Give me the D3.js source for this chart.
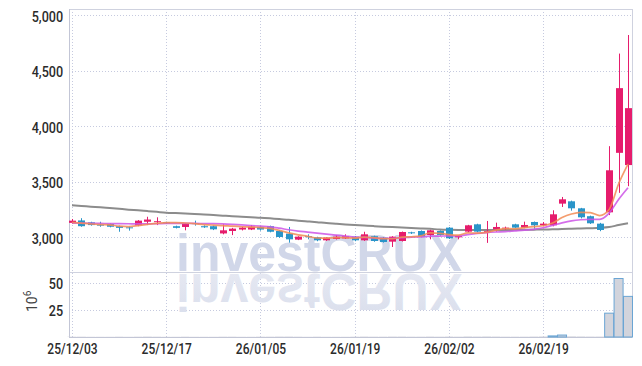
<!DOCTYPE html>
<html>
<head>
<meta charset="utf-8">
<script src="https://cdn.jsdelivr.net/npm/d3@7"></script>
<style>
  body { margin: 0; background: #fff; }
  svg { display: block; }
  .tick text { font-family: Roboto, sans-serif; font-weight: 500; font-size: 15px; fill: #2b2b2b; }
</style>
</head>
<body>
<script>
// daily candles
var dates = ["25/12/03","25/12/04","25/12/05","25/12/08","25/12/09","25/12/10","25/12/11","25/12/12","25/12/15","25/12/16",
  "25/12/17","25/12/18","25/12/19","25/12/22","25/12/23","25/12/24","25/12/26","25/12/29","25/12/30","26/01/02",
  "26/01/05","26/01/06","26/01/07","26/01/08","26/01/09","26/01/12","26/01/13","26/01/14","26/01/15","26/01/16",
  "26/01/19","26/01/20","26/01/21","26/01/22","26/01/23","26/01/26","26/01/27","26/01/28","26/01/29","26/01/30",
  "26/02/02","26/02/03","26/02/04","26/02/05","26/02/06","26/02/09","26/02/10","26/02/11","26/02/12","26/02/13",
  "26/02/19","26/02/20","26/02/23","26/02/24","26/02/25","26/02/26","26/02/27","26/03/03","26/03/04","26/03/05"]
var opens = [3130,3152,3135,3115,3120,3100,3090,3108,3140,3140, 3135,3100,3093,3128,3100,3100,3035,3057,3070,3070,
  3093,3100,3057,3033,2979,3010,3000,2973,2985,2990, 3006,2973,3010,2997,2961,2967,3045,3057,3021,3057,
  3087,3000,3051,3117,3050,3072,3080,3117,3087,3138, 3108,3108,3303,3324,3261,3190,3123,3225,3760,3650]
var highs = [3165,3172,3140,3140,3125,3105,3095,3155,3185,3180, 3140,3105,3128,3150,3108,3105,3117,3085,3095,3110,
  3100,3105,3065,3093,3010,3027,3005,3000,3020,3027, 3012,3050,3015,3003,3010,3052,3050,3062,3068,3062,
  3092,3015,3112,3122,3147,3132,3096,3122,3141,3142, 3138,3243,3363,3330,3265,3195,3130,3820,4653,4820]
var lows = [3120,3095,3105,3095,3090,3050,3060,3100,3110,3110, 3120,3080,3063,3105,3085,3065,3027,3020,3062,3065,
  3060,3045,2995,2952,2975,2982,2965,2968,2980,2985, 2965,2968,2960,2952,2913,2962,3030,3000,2982,3015,
  2985,2982,3045,3045,2950,3051,3066,3085,3082,3078, 3099,3099,3273,3240,3170,3120,3055,3200,3400,3460]
var closes = [3150,3100,3110,3105,3095,3085,3085,3150,3160,3145, 3125,3085,3123,3120,3090,3072,3063,3078,3087,3096,
  3070,3050,3003,2982,3006,3003,2973,2997,3006,3010, 2973,3027,2967,2958,3006,3048,3040,3006,3063,3021,
  2991,3012,3108,3051,3055,3093,3087,3087,3111,3108, 3123,3207,3342,3261,3180,3126,3066,3603,4342,4162]
// volume in millions
var volumes = [0.3,0.3,0.2,0.2,0.2,0.3,0.2,0.3,0.4,0.3, 0.2,0.2,0.3,0.2,0.2,0.2,0.3,0.3,0.2,0.2,
  0.3,0.3,0.4,0.4,0.3,0.2,0.3,0.2,0.2,0.2, 0.3,0.4,0.3,0.3,0.4,0.4,0.3,0.3,0.4,0.3,
  0.4,0.3,0.5,0.4,0.5,0.4,0.3,0.3,0.3,0.4, 0.5,1.0,1.8,0.6,0.5,0.4,0.4,22,54,37.5]
// moving averages (orange, magenta, gray)
var ma5 = [3135,3128,3120,3115,3112,3100,3097,3105,3116,3126, 3133,3133,3129,3123,3115,3110,3106,3100,3095,3092,
  3088,3080,3062,3040,3022,3009,2994,2992,2997,2998, 2993,3002,2997,2988,2987,3001,3005,3013,3040,3036,
  3025,3020,3040,3038,3044,3064,3079,3076,3087,3097, 3104,3128,3178,3210,3225,3222,3196,3250,3480,3658]
var ma10 = [3128,3127,3126,3125,3124,3123,3122,3121,3121,3122, 3125,3125,3125,3125,3124,3123,3121,3117,3112,3106,
  3100,3094,3082,3068,3056,3047,3037,3028,3020,3011, 3002,2999,2994,2991,2991,2996,3002,3004,3010,3011,
  3013,3012,3025,3036,3043,3048,3052,3058,3064,3072, 3086,3108,3130,3148,3158,3162,3162,3218,3340,3446]
var ma60 = [3288,3282,3276,3270,3263,3256,3249,3243,3236,3229, 3222,3218,3214,3209,3205,3200,3195,3190,3186,3181,
  3177,3171,3164,3158,3150,3143,3136,3128,3122,3116, 3111,3106,3101,3096,3092,3088,3084,3080,3076,3071,
  3068,3066,3066,3065,3065,3066,3066,3067,3068,3069, 3070,3072,3075,3078,3080,3082,3085,3092,3110,3126]

var priceTicks = [3000, 3500, 4000, 4500, 5000]
var volumeTicks = [25, 50]
var tickDates = ["25/12/03","25/12/17","26/01/05","26/01/19","26/02/02","26/02/19"]

var w = 642, h = 366
var plotLeft = 69, plotRight = 632, plotTop = 9, split = 272, plotBottom = 337

var svg = d3.select("body").append("svg")
    .attr("width", w)
    .attr("height", h)

var x = d3.scalePoint().domain(dates).range([72, 628])
var y = d3.scaleLinear().domain([2688, 5054]).range([split, plotTop])
var yv = d3.scaleLinear().domain([0, 60]).range([plotBottom, split])

var data = dates.map(function(d, i){
  return {date: d, open: opens[i], high: highs[i], low: lows[i], close: closes[i],
          vol: volumes[i], ma5: ma5[i], ma10: ma10[i], ma60: ma60[i]}
})

// grid
var grid = svg.append("g")
    .attr("stroke", "#c6cadf")
    .attr("stroke-dasharray", "1,2")
grid.selectAll(".hp").data(priceTicks).enter().append("line")
    .attr("x1", plotLeft).attr("x2", plotRight)
    .attr("y1", function(d){ return Math.round(y(d)) + 0.5 })
    .attr("y2", function(d){ return Math.round(y(d)) + 0.5 })
grid.selectAll(".hv").data(volumeTicks).enter().append("line")
    .attr("x1", plotLeft).attr("x2", plotRight)
    .attr("y1", function(d){ return Math.round(yv(d)) + 0.5 })
    .attr("y2", function(d){ return Math.round(yv(d)) + 0.5 })
grid.selectAll(".vx").data(tickDates).enter().append("line")
    .attr("y1", plotTop).attr("y2", plotBottom)
    .attr("x1", function(d){ return Math.round(x(d)) + 0.5 })
    .attr("x2", function(d){ return Math.round(x(d)) + 0.5 })

// watermark + reflection
var defs = svg.append("defs")
var grad = defs.append("linearGradient").attr("id", "fade")
    .attr("x1", 0).attr("y1", 0).attr("x2", 0).attr("y2", 1)
grad.append("stop").attr("offset", "0%").attr("stop-color", "#d9deec")
grad.append("stop").attr("offset", "100%").attr("stop-color", "#e8eaf3")

svg.append("text")
    .attr("x", 176).attr("y", split - 1)
    .attr("textLength", 286).attr("lengthAdjust", "spacingAndGlyphs")
    .style("font-family", "'Liberation Sans', Arial, sans-serif")
    .style("font-weight", "bold")
    .style("font-size", "51px")
    .style("fill", "#d1d7e9")
    .text("investCRUX")
svg.append("text")
    .attr("transform", "translate(0," + (2 * split + 1) + ") scale(1,-1)")
    .attr("x", 176).attr("y", split - 1)
    .attr("textLength", 286).attr("lengthAdjust", "spacingAndGlyphs")
    .style("font-family", "'Liberation Sans', Arial, sans-serif")
    .style("font-weight", "bold")
    .style("font-size", "51px")
    .style("fill", "url(#fade)")
    .text("investCRUX")

// frame
var frame = svg.append("g").attr("stroke", "#cfd2df").attr("fill", "none")
frame.append("line").attr("x1", plotLeft).attr("x2", plotRight).attr("y1", plotTop + 0.5).attr("y2", plotTop + 0.5)
frame.append("line").attr("x1", plotRight + 0.5).attr("x2", plotRight + 0.5).attr("y1", plotTop).attr("y2", plotBottom)
frame.append("line").attr("x1", plotLeft).attr("x2", plotRight).attr("y1", split + 0.5).attr("y2", split + 0.5)
frame.append("line").attr("x1", plotLeft).attr("x2", plotRight).attr("y1", plotBottom + 0.5).attr("y2", plotBottom + 0.5).attr("stroke", "#c3c6d6")
frame.append("line").attr("x1", plotLeft + 0.5).attr("x2", plotLeft + 0.5).attr("y1", plotTop).attr("y2", plotBottom + 1).attr("stroke", "#c3c6d6")

// long moving average sits under the candles
var line = function(key){
  return d3.line()
    .x(function(d){ return x(d.date) })
    .y(function(d){ return y(d[key]) })
    .curve(d3.curveMonotoneX)
}
svg.append("path").datum(data)
    .attr("d", line("ma60"))
    .attr("fill", "none")
    .attr("stroke", "#8c8c8c")
    .attr("stroke-width", 2)

// candles
var up = "#e61c6c", down = "#2a95c9"
var c = svg.selectAll(".candle").data(data).enter().append("g").attr("class", "candle")
c.append("line")
    .attr("x1", function(d){ return Math.round(x(d.date)) + 0.5 })
    .attr("x2", function(d){ return Math.round(x(d.date)) + 0.5 })
    .attr("y1", function(d){ return y(d.high) })
    .attr("y2", function(d){ return y(d.low) })
    .attr("stroke", function(d){ return d.close >= d.open ? up : down })
c.append("rect")
    .attr("x", function(d){ return Math.round(x(d.date)) - 3 })
    .attr("width", 7)
    .attr("y", function(d){ return y(Math.max(d.open, d.close)) })
    .attr("height", function(d){ return Math.max(1, Math.abs(y(d.open) - y(d.close))) })
    .attr("fill", function(d){ return d.close >= d.open ? up : down })

svg.append("path").datum(data)
    .attr("d", line("ma10"))
    .attr("fill", "none")
    .attr("stroke", "#cc55e6")
    .attr("stroke-width", 1.7)
    .attr("opacity", 0.85)
svg.append("path").datum(data)
    .attr("d", line("ma5"))
    .attr("fill", "none")
    .attr("stroke", "#f28c55")
    .attr("stroke-width", 1.7)
    .attr("opacity", 0.85)

// volume
svg.selectAll(".vol").data(data).enter().append("rect")
    .attr("class", "vol")
    .attr("x", function(d){ return x(d.date) - 4.5 })
    .attr("width", 9)
    .attr("y", function(d){ return yv(d.vol) })
    .attr("height", function(d){ return plotBottom - yv(d.vol) })
    .attr("fill", "#d2d4dc")
    .attr("stroke", function(d){ return d.vol >= 0.8 ? "#6aa5d4" : "none" })

// axes
var yAxis = svg.append("g")
    .attr("transform", "translate(" + plotLeft + ",0)")
    .call(d3.axisLeft(y).tickValues(priceTicks).tickFormat(d3.format(",")).tickSize(0).tickPadding(7))
var vAxis = svg.append("g")
    .attr("transform", "translate(" + plotLeft + ",0)")
    .call(d3.axisLeft(yv).tickValues(volumeTicks).tickSize(0).tickPadding(7))
var xAxis = svg.append("g")
    .attr("transform", "translate(0," + plotBottom + ")")
    .call(d3.axisBottom(x).tickValues(tickDates).tickSize(0).tickPadding(6))

svg.selectAll(".domain").remove()
yAxis.selectAll("text").attr("transform", "scale(0.84,1)").attr("dy", "0.4em")
vAxis.selectAll("text").attr("transform", "scale(0.84,1)").attr("dy", "0.4em")
xAxis.selectAll("text").attr("transform", "scale(0.8,1)")

// unit label
var unit = svg.append("text")
    .attr("transform", "translate(37,312) rotate(-90)")
    .style("font-family", "Roboto, sans-serif")
    .style("font-size", "14px")
    .style("fill", "#444")
unit.append("tspan").text("10")
unit.append("tspan").attr("dy", -6).style("font-size", "10px").text("6")
</script>
</body>
</html>
